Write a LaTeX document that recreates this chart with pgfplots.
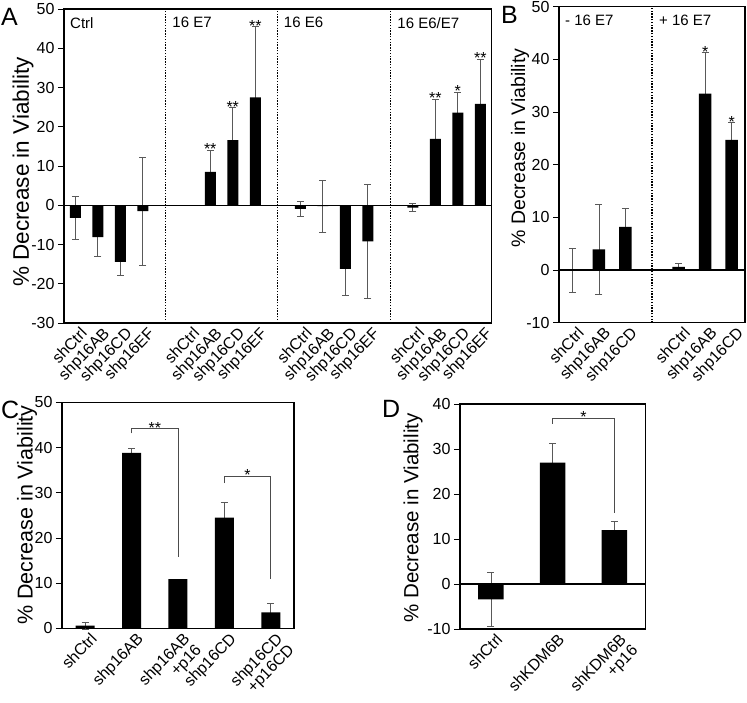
\documentclass[border=0pt]{standalone}
\usepackage{pgfplots}
\usepackage{pgfplotstable}
\pgfplotsset{compat=1.18}
\usepackage{fontspec}
\setmainfont{Liberation Sans}

\pgfplotstableread{
x y e
0 -3.2 5.4
1 -8.1 4.8
2 -14.4 3.4
3 -1.5 13.7
5 0 0
6 8.5 5.5
7 16.6 8.3
8 27.5 18.0
10 -0.9 2.0
11 -0.2 6.6
12 -16.2 6.7
13 -9.2 14.6
15 -0.6 1.0
16 16.9 10.1
17 23.6 5.2
18 25.8 11.4
}\dataA
\pgfplotstableread{
x y e
0 0 4.2
1 3.9 8.5
2 8.2 3.5
4 0.6 0.7
5 33.5 7.8
6 24.7 3.3
}\dataB
\pgfplotstableread{
x y e
0 0.6 0.8
1 38.8 1.0
2 10.9 0
3 24.5 3.4
4 3.5 2.0
}\dataC
\pgfplotstableread{
x y e
0 -3.4 6.0
1 27.0 4.3
2 12.0 2.0
}\dataD

\newcommand\fs[1]{\fontsize{#1}{#1}\selectfont}

\pgfplotsset{
  panel/.style={
    scale only axis, ybar, clip=false, enlargelimits=false,
    axis line style={line width=1.2pt},
    ytick pos=left, tick align=outside, major tick length=6pt,
    ytick style={line width=0.8pt, black},
    xtick style={draw=none},
    yticklabel style={font=\fs{16}},
    xticklabel style={font=\fs{16}, rotate=46, anchor=north east, align=right,
      inner sep=1pt, xshift=6pt},
    /pgf/number format/assume math mode=true,
  },
  whisk/.style={draw=none, fill=none, bar shift=0pt, bar width=#1,
    error bars/.cd, y dir=both, y explicit,
    error bar style={line width=0.6pt, black!65},
    error mark options={rotate=90, line width=0.6pt, black!65, mark size=3.5pt}},
  solid bar/.style={fill=black, draw=none, bar shift=0pt, bar width=#1},
}
\tikzset{
  star/.style={font=\fs{16}, anchor=base, inner sep=0pt, yshift=-4.5pt},
  sep/.style={dash pattern=on 1.4pt off 1.4pt, line width=1.3pt},
  tag/.style={font=\fs{15}, anchor=north west, inner sep=0pt, xshift=7pt, yshift=-8pt},
  brk/.style={line width=0.6pt, black!70},
}

\begin{document}
\begin{tikzpicture}
\path[use as bounding box] (0pt,0pt) rectangle (747pt,-702pt);

% ---- A
\begin{axis}[panel, at={(64pt,-9pt)}, anchor=north west, width=427.5pt, height=314pt,
  xmin=-0.5, xmax=18.5, ymin=-30, ymax=50, ytick={-30,-20,...,50},
  xtick={0,1,2,3,5,6,7,8,10,11,12,13,15,16,17,18},
  xticklabels={shCtrl,shp16AB,shp16CD,shp16EF,shCtrl,shp16AB,shp16CD,shp16EF,
               shCtrl,shp16AB,shp16CD,shp16EF,shCtrl,shp16AB,shp16CD,shp16EF}]
\addplot[whisk=11pt] table[x=x, y=y, y error=e]{\dataA};
\addplot[solid bar=11pt] table[x=x, y=y]{\dataA};
\draw[line width=1.2pt] (axis cs:-0.5,0) -- (axis cs:18.5,0);
\draw[sep] (axis cs:4,-30) -- (axis cs:4,50);
\draw[sep] (axis cs:9,-30) -- (axis cs:9,50);
\draw[sep] (axis cs:14,-30) -- (axis cs:14,50);
\node[tag, xshift=-1pt] at (axis cs:-0.5,50) {Ctrl};
\node[tag] at (axis cs:4,50) {16 E7};
\node[tag, xshift=-1pt] at (axis cs:9,50) {16 E6};
\node[tag] at (axis cs:14,50) {16 E6/E7};
\node[star] at (axis cs:6,14.0) {**};
\node[star] at (axis cs:7,24.9) {**};
\node[star] at (axis cs:8,45.5) {**};
\node[star] at (axis cs:16,27.0) {**};
\node[star] at (axis cs:17,28.8) {*};
\node[star] at (axis cs:18,37.2) {**};
\end{axis}

% ---- B
\begin{axis}[panel, at={(559pt,-6.7pt)}, anchor=north west, width=186pt, height=316pt,
  xmin=-0.5, xmax=6.5, ymin=-10, ymax=50, ytick={-10,0,...,50},
  xtick={0,1,2,4,5,6},
  xticklabels={shCtrl,shp16AB,shp16CD,shCtrl,shp16AB,shp16CD}]
\addplot[whisk=12.5pt] table[x=x, y=y, y error=e]{\dataB};
\addplot[solid bar=12.5pt] table[x=x, y=y]{\dataB};
\draw[line width=1.2pt] (axis cs:-0.5,0) -- (axis cs:6.5,0);
\draw[sep] (axis cs:3,-10) -- (axis cs:3,50);
\node[tag, xshift=-1pt] at (axis cs:-0.5,50) {- 16 E7};
\node[tag] at (axis cs:3,50) {+ 16 E7};
\node[star] at (axis cs:5,41.3) {*};
\node[star] at (axis cs:6,28.0) {*};
\end{axis}

% ---- C
\begin{axis}[panel, at={(62pt,-402.3pt)}, anchor=north west, width=232pt, height=226pt,
  xmin=-0.5, xmax=4.5, ymin=0, ymax=50, ytick={0,10,...,50},
  xtick={0,1,2,3,4},
  xticklabels={shCtrl,shp16AB,{shp16AB\\+p16},shp16CD,{shp16CD\\+p16CD}}]
\addplot[whisk=19pt] table[x=x, y=y, y error=e]{\dataC};
\addplot[solid bar=19pt] table[x=x, y=y]{\dataC};
\draw[brk] (axis cs:1,43.1) -- (axis cs:1,44.2) -- (axis cs:2,44.2) -- (axis cs:2,15.8);
\draw[brk] (axis cs:3,32.1) -- (axis cs:3,33.7) -- (axis cs:4,33.7) -- (axis cs:4,10.8);
\node[star] at (axis cs:1.5,44.2) {**};
\node[star] at (axis cs:3.5,33.7) {*};
\end{axis}

% ---- D
\begin{axis}[panel, at={(460pt,-404pt)}, anchor=north west, width=185.3pt, height=225pt,
  xmin=-0.5, xmax=2.5, ymin=-10, ymax=40, ytick={-10,0,...,40},
  xtick={0,1,2},
  xticklabels={shCtrl,shKDM6B,{shKDM6B\\+p16}}]
\addplot[whisk=25.5pt] table[x=x, y=y, y error=e]{\dataD};
\addplot[solid bar=25.5pt] table[x=x, y=y]{\dataD};
\draw[line width=1.2pt] (axis cs:-0.5,0) -- (axis cs:2.5,0);
\draw[brk] (axis cs:1,35.6) -- (axis cs:1,36.9) -- (axis cs:2,36.9) -- (axis cs:2,15.8);
\node[star] at (axis cs:1.5,36.9) {*};
\end{axis}

% panel letters and y labels
\node[anchor=base west, inner sep=0pt, font=\fs{25}] at (1pt,-25pt) {A};
\node[anchor=base west, inner sep=0pt, font=\fs{25}] at (501pt,-23pt) {B};
\node[anchor=base west, inner sep=0pt, font=\fs{25}] at (1pt,-418pt) {C};
\node[anchor=base west, inner sep=0pt, font=\fs{25}] at (382pt,-417pt) {D};
\node[rotate=90, font=\fs{22.5}] at (23pt,-172pt) {\% Decrease in Viability};
\node[rotate=90, font=\fs{19.5}] at (520pt,-148pt) {\% Decrease in Viability};
\node[rotate=90, font=\fs{21.5}] at (27pt,-515pt) {\% Decrease in Viability};
\node[rotate=90, font=\fs{20.5}] at (413pt,-518pt) {\% Decrease in Viability};
\end{tikzpicture}
\end{document}
